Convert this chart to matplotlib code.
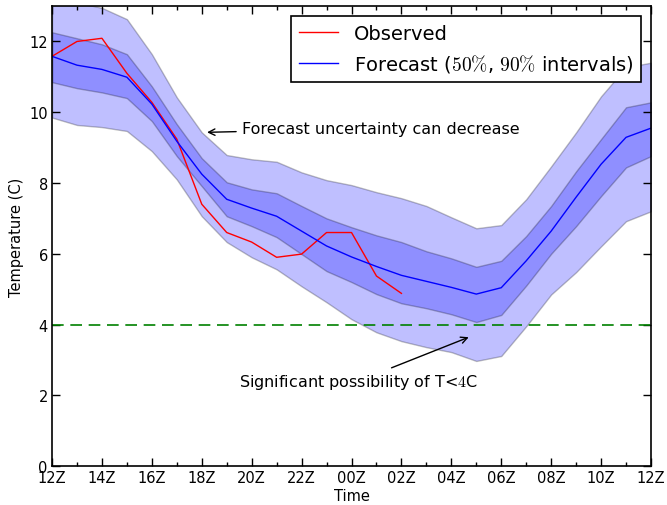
import numpy as np
import matplotlib
matplotlib.use("Agg")
import matplotlib.pyplot as plt
from matplotlib.ticker import MultipleLocator

plt.rcParams['mathtext.fontset'] = 'cm'
plt.rcParams['font.family'] = ['DejaVu Sans']

hours = list(range(25))
tick_hours = list(range(0, 25, 2))
tick_labels = ['12Z', '14Z', '16Z', '18Z', '20Z', '22Z', '00Z', '02Z',
               '04Z', '06Z', '08Z', '10Z', '12Z']

median = [11.58, 11.33, 11.21, 10.99, 10.23, 9.18, 8.25, 7.54, 7.29, 7.06,
          6.64, 6.22, 5.91, 5.64, 5.39, 5.22, 5.05, 4.86, 5.04, 5.80,
          6.64, 7.60, 8.53, 9.29, 9.55]
upper50 = [12.26, 12.09, 11.92, 11.64, 10.73, 9.66, 8.70, 8.02, 7.82, 7.71,
           7.35, 7.00, 6.75, 6.52, 6.33, 6.07, 5.87, 5.63, 5.80, 6.50,
           7.35, 8.33, 9.24, 10.14, 10.28]
lower50 = [10.85, 10.68, 10.56, 10.40, 9.75, 8.76, 7.91, 7.06, 6.78, 6.47,
           5.99, 5.51, 5.20, 4.86, 4.60, 4.46, 4.29, 4.07, 4.27, 5.10,
           6.00, 6.78, 7.63, 8.44, 8.76]
upper90 = [13.2, 13.1, 12.95, 12.63, 11.64, 10.42, 9.43, 8.79, 8.67, 8.60,
           8.30, 8.08, 7.94, 7.74, 7.57, 7.35, 7.03, 6.72, 6.81, 7.54,
           8.47, 9.43, 10.45, 11.27, 11.40]
lower90 = [9.85, 9.64, 9.58, 9.47, 8.90, 8.10, 7.06, 6.33, 5.90, 5.56,
           5.08, 4.63, 4.15, 3.78, 3.53, 3.36, 3.22, 2.97, 3.11, 3.95,
           4.85, 5.48, 6.21, 6.92, 7.20]
obs_hours = list(range(15))
observed = [11.58, 12.0, 12.09, 11.1, 10.28, 9.24, 7.4, 6.6, 6.33, 5.9,
            5.99, 6.6, 6.6, 5.37, 4.88]
threshold = 4

fig = plt.figure(figsize=(6.67, 5.06), dpi=100)
ax = fig.add_axes([0.078, 0.077, 0.898, 0.909])

ax.fill_between(hours, lower90, upper90, facecolor='b', edgecolor='k',
                alpha=0.25, linewidth=1)
ax.fill_between(hours, lower50, upper50, facecolor='b', edgecolor='k',
                alpha=0.25, linewidth=1)
ax.plot(obs_hours, observed, color='r', lw=1, label='Observed')
ax.plot(hours, median, color='b', lw=1,
        label=r'Forecast ($50\%$, $90\%$ intervals)')
ax.axhline(threshold, color='g', lw=1.2, dashes=(7, 4))

ax.annotate('Forecast uncertainty can decrease', xy=(6.1, 9.43),
            xytext=(7.6, 9.55), fontsize=11.5, va='center', ha='left',
            arrowprops=dict(arrowstyle='->', color='k', lw=1))
ax.annotate(r'Significant possibility of T<$4$C', xy=(16.8, 3.67),
            xytext=(12.26, 2.4), fontsize=11.5, va='center', ha='center',
            arrowprops=dict(arrowstyle='->', color='k', lw=1))

ax.set_xlim(0, 24)
ax.set_ylim(0, 13)
ax.set_xticks(tick_hours)
ax.set_xticklabels(tick_labels)
ax.xaxis.set_minor_locator(MultipleLocator(1))
ax.set_yticks(range(0, 13, 2))
ax.tick_params(which='both', direction='in', top=True, right=True,
               labelsize=10.5, pad=3)
ax.tick_params(which='major', length=6, width=1)
ax.tick_params(which='minor', length=3, width=1)
for s in ax.spines.values():
    s.set_linewidth(1.2)
ax.set_xlabel('Time', fontsize=10.5, labelpad=2)
ax.set_ylabel('Temperature (C)', fontsize=10.5, labelpad=4)

leg = ax.legend(loc='upper right', fontsize=14, fancybox=False,
                framealpha=1, edgecolor='k', handlelength=2.0)
leg.get_frame().set_linewidth(1.2)

fig.savefig('out.png', dpi=100)
